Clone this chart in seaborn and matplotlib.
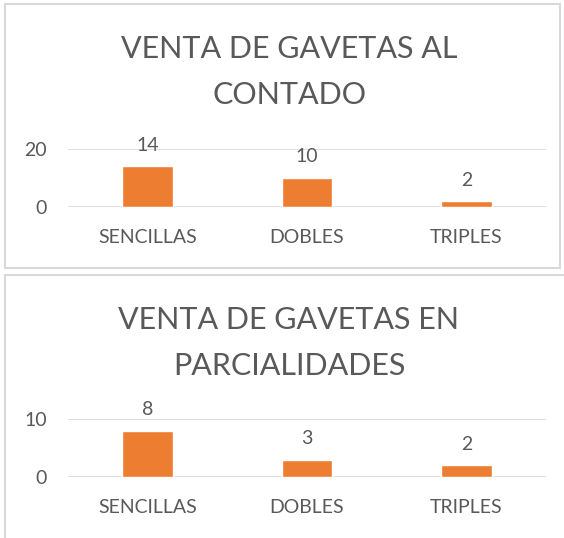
import matplotlib
matplotlib.use("Agg")
import matplotlib.pyplot as plt
import seaborn as sns
import pandas as pd
from matplotlib.patches import Rectangle

# Datos
categorias = ['SENCILLAS', 'DOBLES', 'TRIPLES']
contado = [14, 10, 2]
parcialidades = [8, 3, 2]
titulo_contado = 'VENTA DE GAVETAS AL\nCONTADO'
titulo_parcial = 'VENTA DE GAVETAS EN\nPARCIALIDADES'

naranja = '#ED7D31'
gris_texto = '#595959'
gris_linea = '#D9D9D9'

sns.set_theme(style='white')
plt.rcParams['font.family'] = ['Lato', 'DejaVu Sans']

W, H = 564, 538
fig = plt.figure(figsize=(W / 100, H / 100), dpi=100)


def px_box(x0, y0, x1, y1):
    # pixeles (desde arriba a la izquierda) -> fraccion de la figura
    return [x0 / W, 1 - y1 / H, (x1 - x0) / W, (y1 - y0) / H]


# Marcos de cada grafica
for x0, y0, x1, y1 in [(5, 4, 560, 268), (5, 275, 570, 545)]:
    b = px_box(x0, y0, x1, y1)
    fig.add_artist(Rectangle((b[0], b[1]), b[2], b[3], transform=fig.transFigure,
                             fill=False, edgecolor=gris_linea, lw=1.5))


def grafica(caja, valores, ymax, titulo, titulo_y):
    ax = fig.add_axes(px_box(*caja))
    df = pd.DataFrame({'tipo': categorias, 'cantidad': valores})
    sns.barplot(data=df, x='tipo', y='cantidad', color=naranja, saturation=1,
                width=0.32, ax=ax)
    ax.set_ylim(0, ymax)
    ax.set_yticks([0, ymax])
    ax.set_axisbelow(True)
    ax.grid(axis='y', color=gris_linea, lw=1.2)
    ax.grid(axis='x', visible=False)
    sns.despine(ax=ax, left=True, bottom=True)
    ax.set_xlabel('')
    ax.set_ylabel('')
    ax.tick_params(axis='y', length=0, pad=15, labelsize=14, labelcolor=gris_texto)
    ax.tick_params(axis='x', length=0, pad=16, labelsize=14, labelcolor=gris_texto)
    ax.bar_label(ax.containers[0], padding=9, fontsize=14, color=gris_texto)
    fig.text(289 / W, 1 - titulo_y / H, titulo, ha='center', va='center',
             fontsize=22, color=gris_texto, linespacing=1.75)
    return ax


grafica((68, 149, 546, 207), contado, 20, titulo_contado, 72)
grafica((68, 419, 546, 477), parcialidades, 10, titulo_parcial, 343)

fig.savefig('out.png', dpi=100)
